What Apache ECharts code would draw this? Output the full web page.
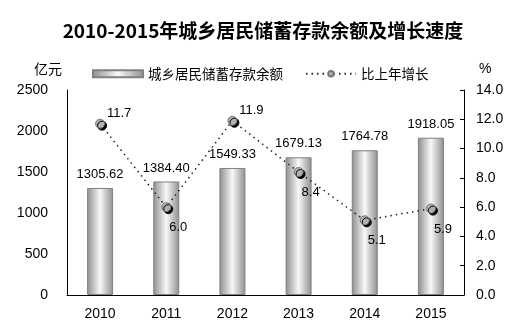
<!DOCTYPE html>
<html><head><meta charset="utf-8">
<script src="https://cdn.jsdelivr.net/npm/echarts@6/dist/echarts.min.js"></script>
<style>html,body{margin:0;padding:0;background:#fff}#c{width:526px;height:333px}</style>
</head><body><div id="c"></div>
<script>
var years = ['2010','2011','2012','2013','2014','2015'];
var balance = [1305.62, 1384.40, 1549.33, 1679.13, 1764.78, 1918.05];
var growth = [11.7, 6.0, 11.9, 8.4, 5.1, 5.9];
var leftTicks = [0, 500, 1000, 1500, 2000, 2500];
var rightTicks = [0, 2, 4, 6, 8, 10, 12, 14];

var font = 'Liberation Sans, Arial, sans-serif';
var barFill = {
  type: 'linear', x: 0, y: 0, x2: 1, y2: 0,
  colorStops: [
    {offset: 0, color: '#8e8e8e'},
    {offset: 0.5, color: '#f8f8f8'},
    {offset: 1, color: '#8e8e8e'}
  ]
};
var above = [true, false, true, false, false, false];
var chart = echarts.init(document.getElementById('c'));
chart.setOption({
  animation: false,
  backgroundColor: '#fff',
  title: {
    text: '2010-2015年城乡居民储蓄存款余额及增长速度',
    left: 'center', top: 16,
    textStyle: {fontFamily: 'Noto Sans CJK SC', fontWeight: 'bold', fontSize: 19, color: '#000'}
  },
  legend: {
    top: 62, left: 87, itemGap: 22,
    itemWidth: 50, itemHeight: 7,
    textStyle: {fontFamily: 'Noto Sans CJK SC', fontSize: 13.5, color: '#000'},
    data: [
      {name: '城乡居民储蓄存款余额', icon: 'rect'},
      {name: '比上年增长'}
    ]
  },
  grid: {left: 67, right: 62, top: 90, bottom: 38},
  xAxis: {
    type: 'category', data: years,
    axisLine: {lineStyle: {color: '#000', width: 1}},
    axisTick: {inside: true, length: 4, lineStyle: {color: '#000'}},
    axisLabel: {fontFamily: font, fontSize: 14, color: '#000', margin: 12}
  },
  yAxis: [
    {
      type: 'value', min: leftTicks[0], max: leftTicks[leftTicks.length-1], interval: 500,
      name: '亿元', nameLocation: 'end', nameGap: 14,
      nameTextStyle: {fontFamily: 'Noto Sans CJK SC', fontSize: 14, color: '#000', align: 'right', padding: [0, 5, 0, 0]},
      axisLine: {show: true, lineStyle: {color: '#000'}},
      axisTick: {show: false},
      splitLine: {show: false},
      axisLabel: {fontFamily: font, fontSize: 14, color: '#000', margin: 19,
        formatter: function (v) { return String(v); }}
    },
    {
      type: 'value', min: rightTicks[0], max: rightTicks[rightTicks.length-1], interval: 2,
      name: '%', nameLocation: 'end', nameGap: 14,
      nameTextStyle: {fontFamily: font, fontSize: 14, color: '#000', align: 'left', padding: [0, 0, 0, 15]},
      axisLine: {show: true, lineStyle: {color: '#000'}},
      axisTick: {show: true, inside: true, length: 4, lineStyle: {color: '#000'}},
      splitLine: {show: false},
      axisLabel: {fontFamily: font, fontSize: 14, color: '#000', margin: 12,
        formatter: function (v) { return v.toFixed(1); }}
    }
  ],
  series: [
    {
      name: '城乡居民储蓄存款余额', type: 'bar', yAxisIndex: 0,
      barWidth: 26,
      data: balance,
      itemStyle: {color: barFill, borderColor: '#808080', borderWidth: 1},
      label: {show: true, position: 'top', distance: 7, fontFamily: font, fontSize: 13, color: '#000',
        formatter: function (p) { return p.value.toFixed(2); }}
    },
    {
      name: '比上年增长', type: 'line', yAxisIndex: 1,
      symbol: 'circle', symbolSize: 9,
      data: growth.map(function (v, i) {
        return {
          value: v,
          label: {offset: above[i] ? [19, 6] : [12, 4], position: above[i] ? 'top' : 'bottom'}
        };
      }),
      lineStyle: {color: '#222', width: 1.5, type: [1.5, 4]},
      itemStyle: {color: '#b0b0b0', borderColor: '#777', borderWidth: 1,
        shadowColor: '#000', shadowOffsetX: 2, shadowOffsetY: 2, shadowBlur: 0},
      label: {show: true, fontFamily: font, fontSize: 13, color: '#000',
        formatter: function (p) { return p.value.toFixed(1); }},
      z: 5
    }
  ]
});
</script></body></html>
